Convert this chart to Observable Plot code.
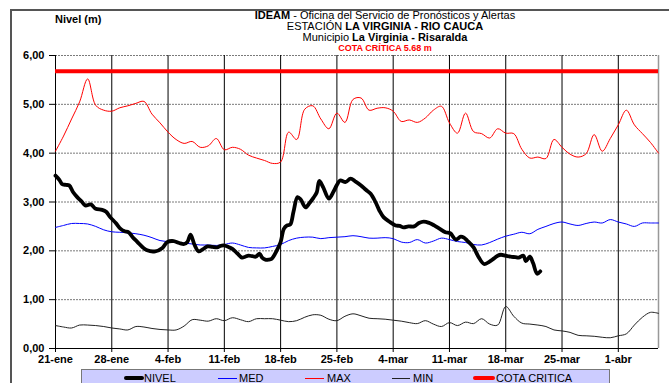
<!DOCTYPE html>
<html>
<head>
<meta charset="utf-8">
<script src="https://cdn.jsdelivr.net/npm/d3@7"></script>
<script src="https://cdn.jsdelivr.net/npm/@observablehq/plot@0.6"></script>
<style>
  html, body { margin: 0; padding: 0; background: #fff; }
  body { width: 669px; height: 383px; overflow: hidden; position: relative; font-family: "Liberation Sans", Arial, sans-serif; }
  #frame { position: absolute; left: 10px; top: 9px; width: 720px; height: 420px; border-left: 2px solid #555; border-top: 2px solid #555; box-sizing: border-box; }
  #chart { position: absolute; left: 0; top: 0; }
  .t { position: absolute; left: 0; width: 770px; text-align: center; font-size: 11px; line-height: 11px; height: 11px; color: #000; white-space: nowrap; }
  #ylab { position: absolute; left: 55px; top: 14px; font-size: 11px; font-weight: bold; line-height: 11px; }
  #legend { position: absolute; left: 81px; top: 369px; width: 529px; height: 24px; background: #CCCCFF; border: 1px solid #777; box-sizing: border-box; }
  .li { position: absolute; top: 3px; font-size: 11px; line-height: 11px; white-space: nowrap; }
  .sw { position: absolute; }
</style>
</head>
<body>
<div id="frame"></div>
<div id="chart"></div>
<div id="ylab">Nivel (m)</div>
<div class="t" style="top:10px"><b>IDEAM</b> - Oficina del Servicio de Pronósticos y Alertas</div>
<div class="t" style="top:21px">ESTACIÓN <b>LA VIRGINIA - RIO CAUCA</b></div>
<div class="t" style="top:32px">Municipio <b>La Virginia - Risaralda</b></div>
<div class="t" style="top:44px;height:9px;font-size:9px;line-height:9px;color:#ff0000;font-weight:bold">COTA CRÍTICA 5.68 m</div>
<div id="legend"></div>
<script>
// ---- data ----
const startDate = "2021-01-21";
const endDate = "2021-04-06";
const tickDates = ["2021-01-21","2021-01-28","2021-02-04","2021-02-11","2021-02-18","2021-02-25","2021-03-04","2021-03-11","2021-03-18","2021-03-25","2021-04-01"];
const tickLabels = ["21-ene","28-ene","4-feb","11-feb","18-feb","25-feb","4-mar","11-mar","18-mar","25-mar","1-abr"];
const yTicks = [0, 1, 2, 3, 4, 5, 6];
const cotaCritica = 5.68;

// daily series, first value = 21-ene
const maxVals = [4.04,4.35,4.70,5.05,5.52,4.98,4.88,4.86,4.93,4.97,5.02,5.06,4.80,4.62,4.43,4.28,4.20,4.24,4.12,4.15,
  4.30,4.07,4.12,4.08,3.96,3.90,3.85,3.79,3.82,4.43,4.28,4.90,4.97,4.70,4.50,4.82,4.63,5.10,5.13,4.88,
  4.92,4.93,4.86,4.65,4.68,4.63,4.72,4.88,4.96,4.62,4.41,4.82,4.44,4.40,4.31,4.50,4.41,4.40,4.08,3.90,
  3.92,3.89,4.28,4.12,3.98,3.92,3.99,4.38,4.04,4.30,4.58,4.88,4.58,4.40,4.22,4.00];
const medVals = [2.48,2.52,2.56,2.56,2.55,2.50,2.43,2.39,2.38,2.37,2.35,2.32,2.27,2.21,2.19,2.17,2.16,2.14,2.12,2.12,
  2.11,2.13,2.16,2.12,2.07,2.06,2.06,2.09,2.13,2.21,2.26,2.28,2.28,2.25,2.27,2.28,2.29,2.31,2.29,2.26,
  2.26,2.27,2.25,2.18,2.17,2.23,2.16,2.20,2.26,2.23,2.19,2.17,2.13,2.12,2.17,2.24,2.30,2.34,2.38,2.35,
  2.44,2.50,2.56,2.59,2.55,2.52,2.56,2.59,2.57,2.64,2.59,2.55,2.50,2.57,2.57,2.57];
const minVals = [0.47,0.44,0.42,0.48,0.48,0.47,0.45,0.42,0.40,0.38,0.45,0.44,0.41,0.39,0.38,0.38,0.46,0.59,0.58,0.56,
  0.61,0.57,0.63,0.59,0.55,0.61,0.61,0.61,0.58,0.55,0.57,0.64,0.69,0.68,0.60,0.57,0.66,0.71,0.67,0.62,
  0.61,0.60,0.58,0.56,0.53,0.51,0.57,0.50,0.45,0.53,0.47,0.54,0.51,0.61,0.50,0.48,0.86,0.66,0.52,0.50,
  0.48,0.45,0.38,0.36,0.33,0.27,0.26,0.25,0.23,0.22,0.26,0.30,0.48,0.64,0.74,0.72];

// NIVEL observations: time (days after 21-ene) and level
const nivelDays = [0,0.5,0.8,1.3,1.7,2.2,2.7,3.2,3.7,4.4,5.0,5.8,6.3,6.8,7.5,8.1,8.6,9.1,9.6,10.2,
  10.8,11.4,12.4,13.3,13.9,14.7,15.4,16.0,16.4,16.8,17.3,17.8,18.3,18.9,19.5,20.1,20.5,20.9,21.5,22.0,
  22.6,23.2,23.6,24.0,24.5,24.9,25.4,25.7,26.1,26.5,26.9,27.5,28.0,28.4,28.8,29.2,29.6,30.1,30.5,31.1,
  31.6,32.1,32.5,32.8,33.3,34.0,34.6,35.0,35.4,36.1,36.7,37.3,38.0,38.6,39.2,39.8,40.3,40.8,41.5,42.3,
  42.8,43.3,43.9,44.6,45.2,45.8,46.5,47.1,47.8,48.5,49.1,49.8,50.4,50.8,51.2,52.0,52.6,53.3,53.9,54.5,
  55.0,55.4,56.0,56.6,57.2,57.6,58.2,58.5,59.0,59.4,59.9,60.3];
const nivelVals = [3.54,3.45,3.37,3.35,3.34,3.20,3.10,3.02,2.93,2.95,2.86,2.84,2.80,2.69,2.57,2.45,2.40,2.38,2.28,2.18,
  2.08,2.01,1.99,2.06,2.18,2.20,2.16,2.14,2.18,2.33,2.12,1.99,2.03,2.09,2.08,2.07,2.10,2.11,2.08,2.04,
  1.95,1.86,1.88,1.90,1.89,1.88,1.94,1.86,1.82,1.82,1.84,2.00,2.18,2.45,2.52,2.54,2.80,3.10,3.05,2.89,
  2.98,3.09,3.20,3.43,3.30,3.07,3.22,3.35,3.44,3.41,3.48,3.42,3.34,3.25,3.17,3.00,2.82,2.69,2.60,2.52,
  2.51,2.48,2.50,2.50,2.57,2.60,2.57,2.52,2.45,2.38,2.36,2.23,2.29,2.27,2.21,2.07,1.88,1.73,1.77,1.84,
  1.90,1.92,1.90,1.88,1.87,1.86,1.90,1.79,1.88,1.75,1.53,1.58];

const legendItems = ["NIVEL", "MED", "MAX", "MIN", "COTA CRITICA"];

// ---- build tables ----
const DAY = 864e5;
const t0 = new Date(startDate + "T00:00:00Z").getTime();
const daily = (vals) => vals.map((v, i) => ({date: new Date(t0 + i * DAY), value: v}));
const maxData = daily(maxVals), medData = daily(medVals), minData = daily(minVals);
const nivelData = nivelDays.map((d, i) => ({date: new Date(t0 + d * DAY), value: nivelVals[i]}));
const ticks = tickDates.map(s => new Date(s + "T00:00:00Z"));
const labelOf = new Map(ticks.map((d, i) => [+d, tickLabels[i]]));
const xEnd = new Date(endDate + "T00:00:00Z");

const styles = {
  NIVEL: {stroke: "#000000", strokeWidth: 3.8},
  MED: {stroke: "#0000ff", strokeWidth: 1},
  MAX: {stroke: "#ff0000", strokeWidth: 1},
  MIN: {stroke: "#222222", strokeWidth: 1},
  "COTA CRITICA": {stroke: "#ff0000", strokeWidth: 4}
};

const chart = Plot.plot({
  width: 669, height: 383,
  marginLeft: 55, marginRight: 11, marginTop: 55, marginBottom: 35,
  style: {fontFamily: "'Liberation Sans', Arial, sans-serif", fontSize: "11px", fontWeight: "bold", color: "#000", background: "transparent", overflow: "visible"},
  x: {type: "utc", domain: [new Date(t0), xEnd], ticks: ticks, tickFormat: d => labelOf.get(+d), tickSize: 4, tickPadding: 3, label: null},
  y: {domain: [0, 6], ticks: yTicks, tickFormat: d => d.toFixed(2).replace(".", ","), tickSize: 6, tickPadding: 5, label: null},
  marks: [
    Plot.ruleY(yTicks.filter(d => d > 0), {stroke: "#7a7a7a", strokeOpacity: 1, strokeDasharray: "2,1"}),
    Plot.ruleX(ticks, {stroke: "#000", strokeOpacity: 1, strokeWidth: 1}),
    Plot.ruleX([xEnd], {stroke: "#999", strokeWidth: 1.5}),
    Plot.ruleY([0], {stroke: "#000", strokeWidth: 1}),
    Plot.line(minData, {x: "date", y: "value", curve: "catmull-rom", ...styles.MIN}),
    Plot.line(medData, {x: "date", y: "value", curve: "catmull-rom", ...styles.MED}),
    Plot.line(maxData, {x: "date", y: "value", curve: "catmull-rom", ...styles.MAX}),
    Plot.line(nivelData, {x: "date", y: "value", curve: "catmull-rom", strokeLinejoin: "round", strokeLinecap: "round", ...styles.NIVEL}),
    Plot.ruleY([cotaCritica], {...styles["COTA CRITICA"]})
  ]
});
document.getElementById("chart").appendChild(chart);

// ---- legend ----
const legendPos = [[42, 20, 62], [136, 19, 157], [223, 19, 245], [310, 18, 331], [391, 22, 414]];
const leg = document.getElementById("legend");
legendItems.forEach((name, i) => {
  const [x, w, tx] = legendPos[i];
  const s = styles[name];
  const sw = document.createElement("div");
  sw.className = "sw";
  sw.style.left = x + "px";
  sw.style.width = w + "px";
  sw.style.height = s.strokeWidth + "px";
  sw.style.top = (8 - s.strokeWidth / 2) + "px";
  sw.style.background = s.stroke;
  if (name === "NIVEL" || name === "COTA CRITICA") sw.style.borderRadius = "2px";
  leg.appendChild(sw);
  const tx_ = document.createElement("div");
  tx_.className = "li";
  tx_.style.left = tx + "px";
  tx_.textContent = name;
  leg.appendChild(tx_);
});
</script>
</body>
</html>
